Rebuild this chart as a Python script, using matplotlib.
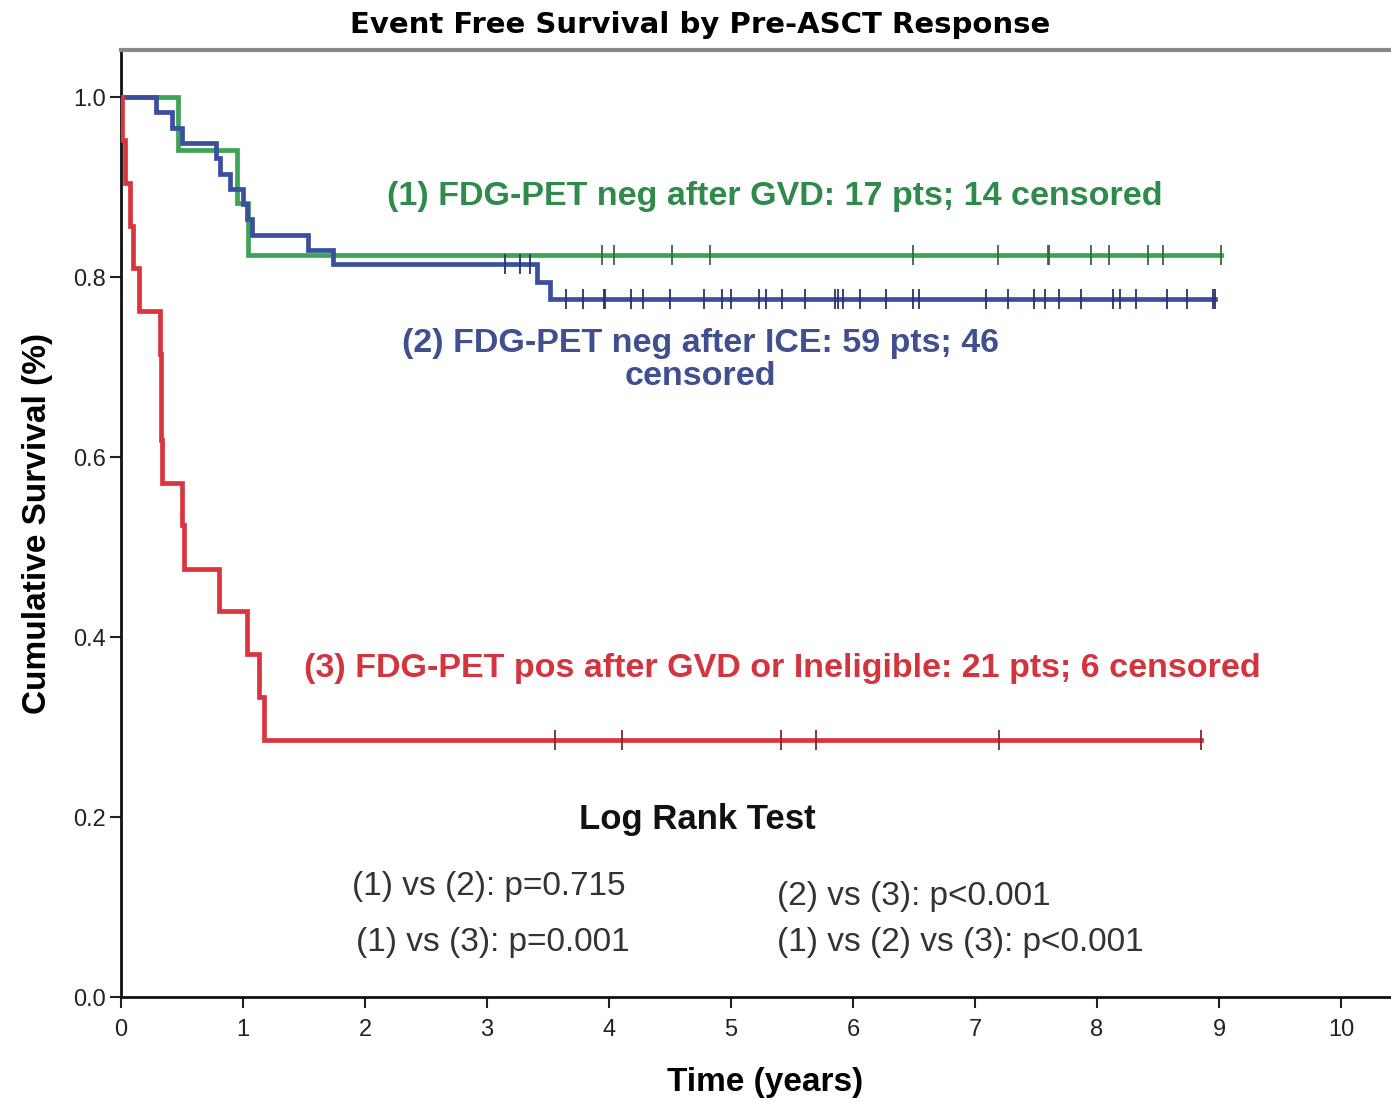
"""Event free survival Kaplan-Meier curves by pre-ASCT response."""

import numpy as np
import matplotlib
matplotlib.use("Agg")
import matplotlib.pyplot as plt

plt.rcParams["font.family"] = ["Liberation Sans", "DejaVu Sans"]

# (1) FDG-PET neg after GVD
green_times = [0.0, 0.47, 0.95, 1.04]
green_surv = [1.0, 0.941, 0.882, 0.824]
green_end = 9.02
green_cens = [3.94, 4.04, 4.52, 4.83, 6.49, 7.19, 7.60, 7.61, 7.95, 8.10, 8.42, 8.54, 9.02]

# (2) FDG-PET neg after ICE
blue_times = [0.0, 0.29, 0.415, 0.50, 0.78, 0.81, 0.89, 1.00, 1.03, 1.07, 1.53, 1.74, 3.41, 3.52]
blue_surv = [1.0, 0.983, 0.966, 0.949, 0.932, 0.915, 0.898, 0.881, 0.864, 0.847, 0.830,
             0.814, 0.795, 0.776]
blue_end = 8.97
blue_cens = [3.15, 3.27, 3.35, 3.65, 3.79, 3.96, 3.97, 4.18, 4.28, 4.50, 4.78, 4.93, 5.00,
             5.23, 5.29, 5.42, 5.61, 5.85, 5.88, 5.92, 6.06, 6.27, 6.49, 6.54, 7.09, 7.27,
             7.48, 7.57, 7.69, 7.87, 8.13, 8.19, 8.32, 8.57, 8.74, 8.95, 8.97]

# (3) FDG-PET pos after GVD or ineligible
red_times = [0.0, 0.01, 0.03, 0.07, 0.10, 0.15, 0.32, 0.325, 0.33, 0.335, 0.50, 0.52,
             0.80, 1.03, 1.13, 1.17]
red_surv = [1.0, 0.952, 0.905, 0.857, 0.810, 0.762, 0.714, 0.667, 0.619, 0.571, 0.524,
            0.476, 0.429, 0.381, 0.333, 0.286]
red_end = 8.85
red_cens = [3.56, 4.11, 5.41, 5.70, 7.20, 8.85]

x_ticks = list(range(0, 11))
y_ticks = [0.0, 0.2, 0.4, 0.6, 0.8, 1.0]

GREEN = "#3da455"
BLUE = "#3c4f9e"
RED = "#d9353f"


def draw_km(ax, times, surv, end, cens, color, mark_color):
    t = list(times) + [end]
    s = list(surv) + [surv[-1]]
    ax.step(t, s, where="post", color=color, linewidth=3.4, solid_joinstyle="miter", zorder=3)
    idx = np.searchsorted(np.array(times), np.array(cens), side="right") - 1
    cy = np.array(surv)[idx]
    ax.plot(cens, cy, linestyle="none", marker="|", markersize=15,
            markeredgewidth=1.3, color=mark_color, zorder=4)


fig = plt.figure(figsize=(13.91, 11.02), dpi=100)
ax = fig.add_axes([121 / 1391, 105 / 1102, 1 - 121 / 1391, (997 - 50) / 1102])

draw_km(ax, green_times, green_surv, green_end, green_cens, GREEN, "#2b6e3c")
draw_km(ax, blue_times, blue_surv, blue_end, blue_cens, BLUE, "#28336e")
draw_km(ax, red_times, red_surv, red_end, red_cens, RED, "#7a2a30")

ax.set_xlim(0, (1391 - 121) / 122)
ax.set_ylim(0, 1 + 47 / 900)
ax.set_xticks(x_ticks)
ax.set_yticks(y_ticks)
ax.set_yticklabels(["{:.1f}".format(v) for v in y_ticks])
ax.tick_params(axis="both", direction="out", length=8, width=1.5, labelsize=17,
               colors="#222222")
ax.tick_params(axis="x", pad=8)
ax.tick_params(axis="y", pad=3)
for side in ["left", "bottom"]:
    ax.spines[side].set_linewidth(2)
    ax.spines[side].set_color("#111111")
ax.spines["top"].set_linewidth(3)
ax.spines["top"].set_color("#888888")
ax.spines["right"].set_visible(False)

ax.set_xlabel("Time (years)", fontsize=24, fontweight="bold")
ax.xaxis.set_label_coords((765 - 121) / 1270, -(1083 - 997) / 947, transform=ax.transAxes)
ax.xaxis.label.set_va("center")
ax.set_ylabel("Cumulative Survival (%)", fontsize=24, fontweight="bold", labelpad=14)
fig.text(700 / 1391, 1 - 25 / 1102, "Event Free Survival by Pre-ASCT Response",
         ha="center", va="center", fontsize=21, fontweight="bold", family="DejaVu Sans")


def px(x, y):
    return x / 1391, 1 - y / 1102


fig.text(*px(775, 197), "(1) FDG-PET neg after GVD: 17 pts; 14 censored",
         ha="center", va="center", fontsize=24.5, fontweight="bold", color="#2f8a4c")
fig.text(*px(700, 360), "(2) FDG-PET neg after ICE: 59 pts; 46\ncensored",
         ha="center", va="center", fontsize=24.5, fontweight="bold", color="#414f8e",
         linespacing=1.1)
fig.text(*px(782, 668), "(3) FDG-PET pos after GVD or Ineligible: 21 pts; 6 censored",
         ha="center", va="center", fontsize=24.5, fontweight="bold", color="#d3343e")

fig.text(*px(697, 820), "Log Rank Test", ha="center", va="center", fontsize=25,
         fontweight="bold", color="#111111")
fig.text(*px(352, 887), "(1) vs (2): p=0.715", ha="left", va="center", fontsize=24,
         color="#333333")
fig.text(*px(356, 943), "(1) vs (3): p=0.001", ha="left", va="center", fontsize=24,
         color="#333333")
fig.text(*px(777, 897), "(2) vs (3): p<0.001", ha="left", va="center", fontsize=24,
         color="#333333")
fig.text(*px(777, 943), "(1) vs (2) vs (3): p<0.001", ha="left", va="center", fontsize=24,
         color="#333333")

fig.savefig("out.png", dpi=100)
